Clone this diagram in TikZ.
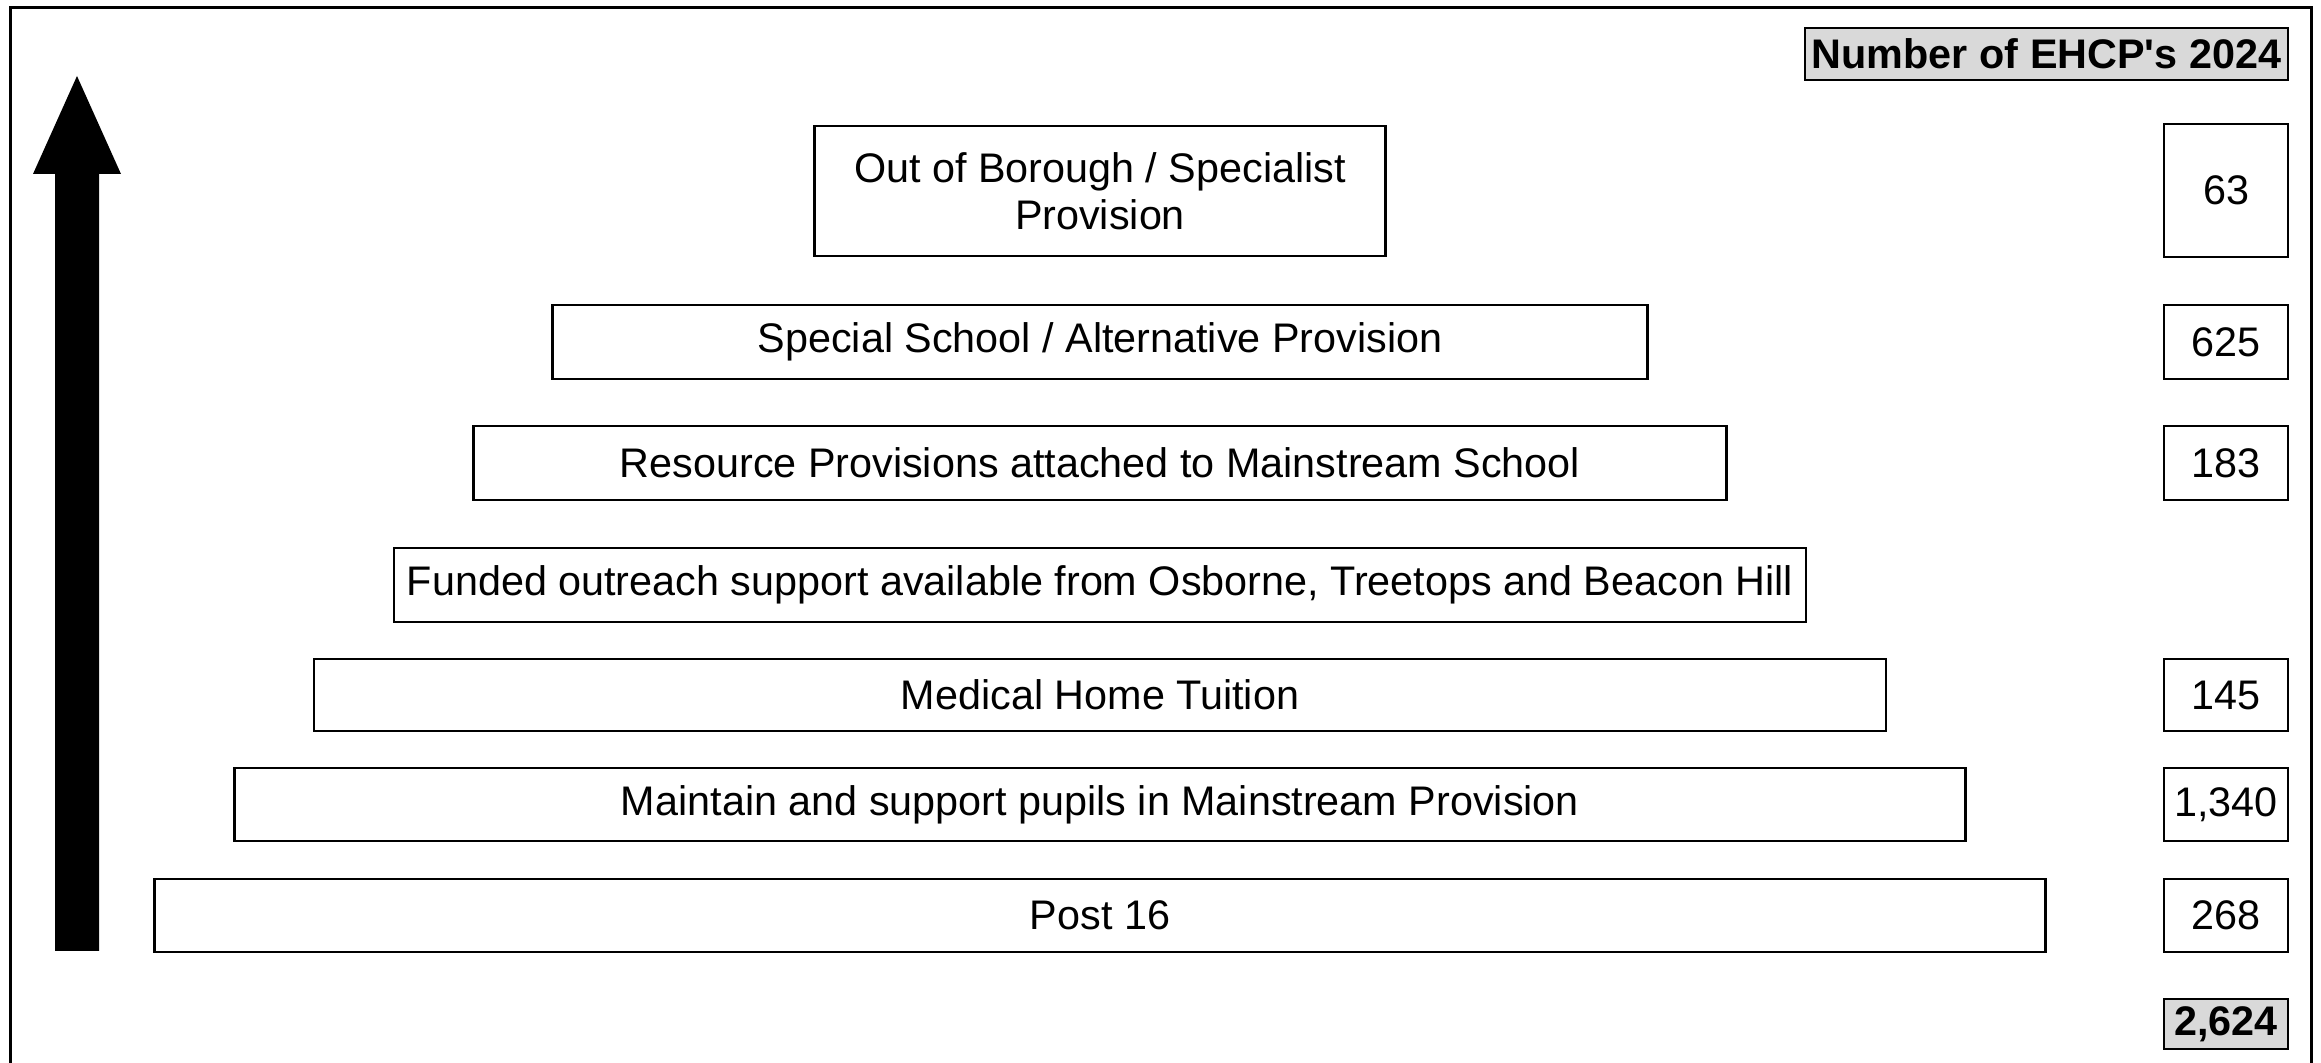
\documentclass[tikz,border=0pt]{standalone}
\usepackage{fontspec}
\setmainfont{Liberation Sans}
\usepackage{tikz}
\definecolor{headgrey}{HTML}{D9D9D9}
\tikzset{
  tierbox/.style={draw, line width=0.7pt, inner sep=0pt, align=center,
    font=\fontsize{12.4}{14.2}\selectfont},
  countbox/.style={tierbox, minimum width=37.2pt},
  headbox/.style={draw, line width=0.7pt, fill=headgrey, inner sep=0pt,
    font=\fontsize{12.4}{14.2}\selectfont\bfseries},
}
\begin{document}
\begin{tikzpicture}[x=0.3pt,y=-0.3pt]%
\useasboundingbox (0,0) rectangle (2321,1063);%
% outer frame, open at the foot
\draw [line width=0.9pt] (10,1090) -- (10,8) -- (2311,8) -- (2311,1090);%
% upward arrow
\fill (55,951) -- (55,174) -- (33,174) -- (77,76) -- (121,174) -- (99,174) -- (99,951) -- cycle;%
% heading and total
\node [headbox, minimum width=144.9pt, minimum height=15.6pt] (head) at (2046.5,54) {Number of EHCP\textquotesingle s 2024};%
\node [headbox, minimum width=37.2pt, minimum height=15pt] (total) at (2226,1024) {2,624};%
% tiers
\node [tierbox, minimum width=171.3pt, minimum height=39pt] (oob) at (1100,191) {Out of Borough / Specialist\\Provision};%
\node [tierbox, minimum width=328.5pt, minimum height=22.2pt] (special) at (1100,342) {Special School / Alternative Provision};%
\node [tierbox, minimum width=375.9pt, minimum height=22.2pt] (resource) at (1100,463) {Resource Provisions attached to Mainstream School};%
\node [tierbox, minimum width=423.6pt, minimum height=22.2pt] (outreach) at (1100,585) {Funded outreach support available from Osborne, Treetops and Beacon Hill};%
\node [tierbox, minimum width=471.6pt, minimum height=21.6pt] (medical) at (1100,695) {Medical Home Tuition};%
\node [tierbox, minimum width=519.3pt, minimum height=21.9pt] (mainstream) at (1100,804.5) {Maintain and support pupils in Mainstream Provision};%
\node [tierbox, minimum width=567.3pt, minimum height=21.9pt] (post) at (1100,915.5) {Post 16};%
% counts
\node [countbox, minimum height=39.9pt] (noob) at (2226,190.5) {63};%
\node [countbox, minimum height=22.2pt] (nspecial) at (2226,342) {625};%
\node [countbox, minimum height=22.2pt] (nresource) at (2226,463) {183};%
\node [countbox, minimum height=21.6pt] (nmedical) at (2226,695) {145};%
\node [countbox, minimum height=21.9pt] (nmainstream) at (2226,804.5) {1,340};%
\node [countbox, minimum height=21.9pt] (npost) at (2226,915.5) {268};%
\end{tikzpicture}
\end{document}
